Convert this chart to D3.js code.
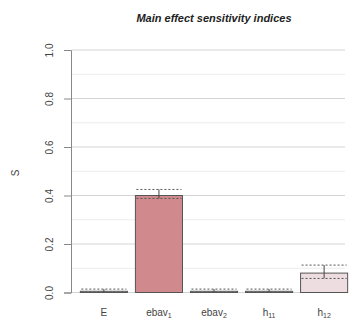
<!DOCTYPE html>
<html>
<head>
<meta charset="utf-8">
<script src="https://cdn.jsdelivr.net/npm/d3@7"></script>
<style>
  body { margin: 0; background: #fff; }
  text { font-family: "Liberation Sans", Arial, sans-serif; }
</style>
</head>
<body>
<svg id="chart" width="355" height="325"></svg>
<script>
// parameter names (base + subscript) and main effect indices
var params = [["E", ""], ["ebav", "1"], ["ebav", "2"], ["h", "11"], ["h", "12"]];
var means = [0.005, 0.40, 0.005, 0.005, 0.08];
var upper = [0.014, 0.425, 0.014, 0.014, 0.113];
var lower = [0.002, 0.388, 0.002, 0.002, 0.058];
var fills = ["#f4eeee", "#d08a8e", "#f4eeee", "#f4eeee", "#eedde0"];
var yTicks = [0, 0.2, 0.4, 0.6, 0.8, 1.0];
var yMinor = [0.1, 0.3, 0.5, 0.7, 0.9];

var svg = d3.select("#chart");

var x = d3.scaleBand()
    .domain(d3.range(params.length))
    .range([76.5, 351.5])
    .paddingInner(0.145)
    .paddingOuter(0.07);

var y = d3.scaleLinear().domain([0, 1]).range([292.5, 50]);

// title
svg.append("text")
    .attr("x", 214)
    .attr("y", 22)
    .attr("text-anchor", "middle")
    .attr("font-size", "11px")
    .attr("font-weight", "bold")
    .attr("font-style", "italic")
    .attr("fill", "#222")
    .text("Main effect sensitivity indices");

// grid lines
svg.append("g").selectAll("line")
    .data(yMinor).enter().append("line")
    .attr("x1", 72).attr("x2", 345)
    .attr("y1", function (d) { return y(d); })
    .attr("y2", function (d) { return y(d); })
    .attr("stroke", "#ececec")
    .attr("stroke-width", 1);

svg.append("g").selectAll("line")
    .data(yTicks).enter().append("line")
    .attr("x1", 72).attr("x2", 345)
    .attr("y1", function (d) { return y(d); })
    .attr("y2", function (d) { return y(d); })
    .attr("stroke", "#d4d4d4")
    .attr("stroke-width", 1);

// y axis
var yAxis = svg.append("g")
    .attr("transform", "translate(71,0)")
    .call(d3.axisLeft(y).tickValues(yTicks).tickSize(7).tickFormat(d3.format(".1f")));
yAxis.select(".domain").attr("stroke", "#888");
yAxis.selectAll(".tick line").attr("stroke", "#888");
yAxis.selectAll(".tick text")
    .attr("transform", "rotate(-90)")
    .attr("x", 0)
    .attr("y", -22)
    .attr("dy", "0.35em")
    .attr("text-anchor", "middle")
    .attr("font-size", "10px")
    .attr("fill", "#444");

svg.append("text")
    .attr("transform", "translate(19,173) rotate(-90)")
    .attr("text-anchor", "middle")
    .attr("font-size", "10px")
    .attr("fill", "#444")
    .text("S");

// bars
var g = svg.append("g");
g.selectAll(".bar")
    .data(means).enter().append("rect")
    .attr("class", "bar")
    .attr("x", function (d, i) { return x(i); })
    .attr("width", x.bandwidth())
    .attr("y", function (d) { return y(d); })
    .attr("height", function (d) { return y(0) - y(d); })
    .attr("fill", function (d, i) { return fills[i]; })
    .attr("stroke", "#555")
    .attr("stroke-width", 1);

// dotted confidence bounds
[upper, lower].forEach(function (arr) {
    g.selectAll(null)
        .data(arr).enter().append("line")
        .attr("x1", function (d, i) { return x(i) + 1; })
        .attr("x2", function (d, i) { return x(i) + x.bandwidth() - 1; })
        .attr("y1", function (d) { return y(d); })
        .attr("y2", function (d) { return y(d); })
        .attr("stroke", "#555")
        .attr("stroke-dasharray", "2,2");
});

// error whiskers
g.selectAll(".err")
    .data(means).enter().append("line")
    .attr("class", "err")
    .attr("x1", function (d, i) { return x(i) + x.bandwidth() / 2; })
    .attr("x2", function (d, i) { return x(i) + x.bandwidth() / 2; })
    .attr("y1", function (d, i) { return y(upper[i]); })
    .attr("y2", function (d, i) { return y(lower[i]); })
    .attr("stroke", "#444");

// x labels
var lab = svg.append("g").selectAll("text")
    .data(params).enter().append("text")
    .attr("x", function (d, i) { return x(i) + x.bandwidth() / 2; })
    .attr("y", 316)
    .attr("text-anchor", "middle")
    .attr("font-size", "10px")
    .attr("fill", "#444");
lab.append("tspan").text(function (d) { return d[0]; });
lab.append("tspan")
    .attr("font-size", "7px")
    .attr("dy", 2)
    .text(function (d) { return d[1]; });
</script>
</body>
</html>
